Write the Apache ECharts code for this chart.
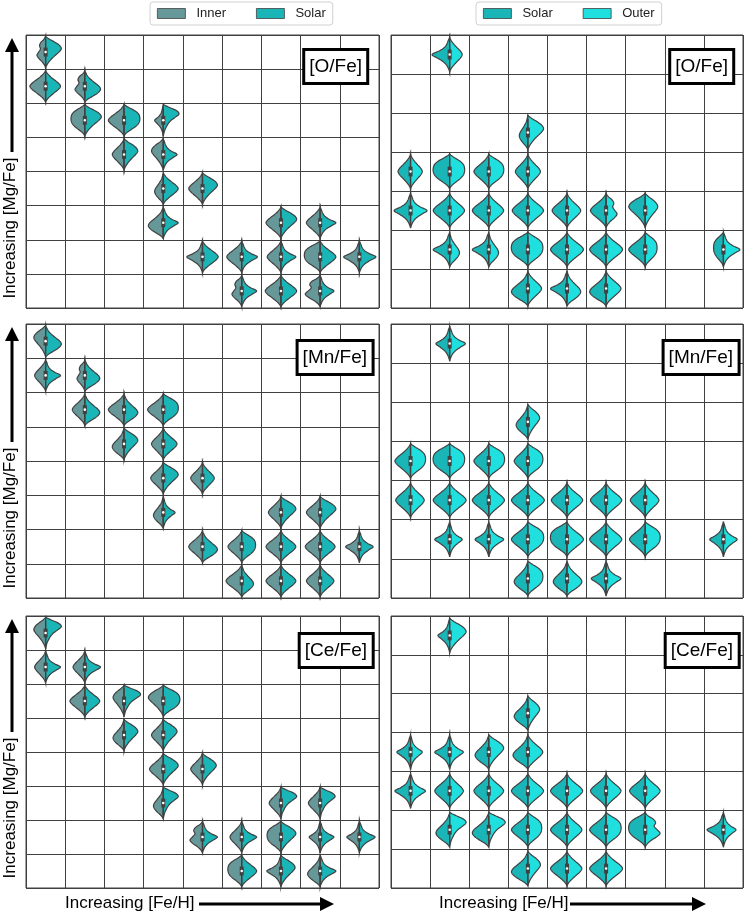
<!DOCTYPE html>
<html>
<head>
<meta charset="utf-8">
<script src="https://cdn.jsdelivr.net/npm/echarts@6/dist/echarts.min.js"></script>
<style>
html, body { margin: 0; padding: 0; background: #fff; }
#main { width: 747px; height: 914px; }
</style>
</head>
<body>
<div id="main"></div>
<script>
// half-violin profiles, sampled top -> bottom, normalised to 1
var diamond = [0, 0.12, 0.32, 0.58, 0.85, 1.0, 0.86, 0.60, 0.34, 0.12, 0];
var upper   = [0, 0.25, 0.62, 0.90, 1.0, 0.85, 0.62, 0.40, 0.22, 0.08, 0];
var lower   = [0, 0.08, 0.20, 0.40, 0.65, 0.90, 1.0, 0.85, 0.55, 0.20, 0];
var spike   = [0, 0.08, 0.16, 0.30, 0.60, 1.0, 0.70, 0.38, 0.18, 0.07, 0];
var round   = [0, 0.30, 0.68, 0.92, 1.0, 1.0, 0.92, 0.72, 0.42, 0.14, 0];
var wavy    = [0, 0.18, 0.55, 0.70, 0.60, 0.80, 1.0, 0.78, 0.42, 0.14, 0];
var flag    = [0, 0.40, 0.85, 1.0, 0.78, 0.50, 0.32, 0.20, 0.10, 0.04, 0];
var SHAPES = { diamond: diamond, upper: upper, lower: lower, spike: spike, round: round, wavy: wavy, flag: flag };

// violins: [col, row (from top), left half shape, left width, right half shape, right width]
// left column panels: Inner | Solar
var oFeInner = [
  [0,0,'wavy',0.22,'upper',0.40], [0,1,'diamond',0.40,'diamond',0.38], [1,1,'wavy',0.25,'lower',0.40],
  [1,2,'round',0.35,'upper',0.42], [2,2,'diamond',0.40,'round',0.40], [3,2,'spike',0.22,'flag',0.40],
  [2,3,'diamond',0.30,'upper',0.35], [3,3,'upper',0.30,'spike',0.35],
  [3,4,'lower',0.22,'diamond',0.38], [4,4,'diamond',0.35,'upper',0.38],
  [3,5,'lower',0.38,'spike',0.38], [6,5,'diamond',0.38,'upper',0.40], [7,5,'diamond',0.35,'spike',0.40],
  [4,6,'spike',0.40,'diamond',0.40], [5,6,'diamond',0.38,'spike',0.40], [6,6,'diamond',0.35,'spike',0.38],
  [7,6,'round',0.40,'diamond',0.40], [8,6,'spike',0.40,'spike',0.42],
  [5,7,'wavy',0.25,'spike',0.38], [6,7,'diamond',0.40,'diamond',0.40], [7,7,'wavy',0.38,'spike',0.35]
];
var mnFeInner = [
  [0,0,'upper',0.30,'lower',0.40], [0,1,'diamond',0.28,'spike',0.38], [1,1,'wavy',0.20,'lower',0.38],
  [1,2,'diamond',0.32,'lower',0.38], [2,2,'diamond',0.40,'lower',0.35], [3,2,'diamond',0.40,'round',0.38],
  [2,3,'lower',0.30,'upper',0.35], [3,3,'diamond',0.30,'diamond',0.35],
  [3,4,'diamond',0.32,'upper',0.38], [4,4,'diamond',0.30,'diamond',0.30],
  [3,5,'lower',0.25,'spike',0.30], [6,5,'diamond',0.32,'upper',0.38], [7,5,'diamond',0.35,'upper',0.40],
  [4,6,'diamond',0.35,'lower',0.38], [5,6,'diamond',0.35,'round',0.35], [6,6,'diamond',0.38,'diamond',0.38],
  [7,6,'diamond',0.38,'diamond',0.38], [8,6,'spike',0.35,'spike',0.35],
  [5,7,'diamond',0.40,'lower',0.30], [6,7,'diamond',0.38,'diamond',0.38], [7,7,'diamond',0.35,'diamond',0.35]
];
var ceFeInner = [
  [0,0,'upper',0.30,'flag',0.40], [0,1,'diamond',0.28,'spike',0.38], [1,1,'diamond',0.30,'spike',0.40],
  [1,2,'diamond',0.38,'diamond',0.38], [2,2,'upper',0.28,'flag',0.42], [3,2,'upper',0.38,'round',0.42],
  [2,3,'lower',0.28,'upper',0.35], [3,3,'diamond',0.30,'upper',0.35],
  [3,4,'diamond',0.35,'upper',0.38], [4,4,'diamond',0.30,'upper',0.35],
  [3,5,'lower',0.25,'flag',0.38], [6,5,'diamond',0.30,'flag',0.40], [7,5,'diamond',0.30,'flag',0.38],
  [4,6,'wavy',0.32,'spike',0.38], [5,6,'diamond',0.30,'spike',0.38], [6,6,'round',0.35,'upper',0.38],
  [7,6,'spike',0.28,'spike',0.35], [8,6,'spike',0.32,'spike',0.40],
  [5,7,'round',0.35,'diamond',0.38], [6,7,'spike',0.36,'upper',0.36], [7,7,'lower',0.32,'spike',0.40]
];
// right column panels: Solar | Outer
var oFeOuter = [
  [1,0,'spike',0.45,'diamond',0.32], [3,2,'lower',0.22,'upper',0.40],
  [0,3,'diamond',0.32,'diamond',0.30], [1,3,'round',0.42,'round',0.38], [2,3,'diamond',0.38,'round',0.38], [3,3,'diamond',0.32,'diamond',0.32],
  [0,4,'spike',0.42,'spike',0.42], [1,4,'diamond',0.42,'diamond',0.38], [2,4,'diamond',0.42,'diamond',0.38], [3,4,'diamond',0.40,'diamond',0.40],
  [4,4,'diamond',0.38,'diamond',0.35], [5,4,'diamond',0.40,'wavy',0.28], [6,4,'upper',0.42,'upper',0.32],
  [1,5,'spike',0.42,'lower',0.25], [2,5,'spike',0.42,'lower',0.25], [3,5,'round',0.42,'round',0.38], [4,5,'diamond',0.42,'diamond',0.42],
  [5,5,'diamond',0.42,'diamond',0.42], [6,5,'diamond',0.42,'round',0.30], [8,5,'round',0.25,'spike',0.42],
  [3,6,'lower',0.42,'diamond',0.35], [4,6,'spike',0.42,'lower',0.35], [5,6,'lower',0.42,'diamond',0.38]
];
var mnFeOuter = [
  [1,0,'spike',0.35,'spike',0.40], [3,2,'lower',0.30,'upper',0.30],
  [0,3,'diamond',0.40,'round',0.38], [1,3,'round',0.42,'round',0.38], [2,3,'diamond',0.38,'round',0.40], [3,3,'diamond',0.35,'round',0.38],
  [0,4,'diamond',0.38,'diamond',0.35], [1,4,'diamond',0.42,'diamond',0.42], [2,4,'diamond',0.42,'diamond',0.40], [3,4,'diamond',0.42,'diamond',0.42],
  [4,4,'diamond',0.40,'diamond',0.40], [5,4,'diamond',0.40,'diamond',0.40], [6,4,'diamond',0.38,'diamond',0.35],
  [1,5,'spike',0.38,'spike',0.32], [2,5,'spike',0.35,'spike',0.38], [3,5,'diamond',0.42,'round',0.40], [4,5,'round',0.42,'diamond',0.42],
  [5,5,'diamond',0.42,'diamond',0.40], [6,5,'diamond',0.40,'round',0.38], [8,5,'spike',0.35,'spike',0.35],
  [3,6,'lower',0.35,'round',0.38], [4,6,'lower',0.35,'lower',0.38], [5,6,'spike',0.38,'spike',0.38]
];
var ceFeOuter = [
  [1,0,'spike',0.30,'upper',0.42], [3,2,'lower',0.35,'upper',0.30],
  [0,3,'spike',0.35,'spike',0.30], [1,3,'spike',0.38,'spike',0.35], [2,3,'lower',0.35,'upper',0.38], [3,3,'lower',0.38,'diamond',0.38],
  [0,4,'spike',0.40,'spike',0.38], [1,4,'diamond',0.38,'diamond',0.35], [2,4,'diamond',0.38,'diamond',0.38], [3,4,'diamond',0.42,'diamond',0.40],
  [4,4,'diamond',0.42,'diamond',0.40], [5,4,'diamond',0.40,'diamond',0.38], [6,4,'diamond',0.40,'diamond',0.38],
  [1,5,'lower',0.35,'flag',0.42], [2,5,'lower',0.42,'flag',0.42], [3,5,'diamond',0.42,'round',0.35], [4,5,'diamond',0.42,'diamond',0.38],
  [5,5,'diamond',0.42,'round',0.38], [6,5,'round',0.42,'wavy',0.38], [8,5,'spike',0.42,'spike',0.32],
  [3,6,'lower',0.42,'upper',0.32], [4,6,'diamond',0.42,'diamond',0.38], [5,6,'diamond',0.42,'diamond',0.42]
];

var panelLabels = ['[O/Fe]', '[O/Fe]', '[Mn/Fe]', '[Mn/Fe]', '[Ce/Fe]', '[Ce/Fe]'];
var panelData = [oFeInner, oFeOuter, mnFeInner, mnFeOuter, ceFeInner, ceFeOuter];
var nCols = 9;
var nRowsLeft = 8, nRowsRight = 7;

// layout / style
var gridRects = [[26,35,353,273],[391,35,352,273],[26,324,353,274],[391,324,352,274],[26,616,353,272],[391,616,352,272]];
var labelBox = [[379,49],[13,49],[374,340],[8,340],[374,633],[8,633]]; // right, top
var INNER = '#669899', SOLAR = '#1ab5b7', OUTER = '#20dfdf';
var EDGE = '#404040';
var FONT = 'Liberation Sans, Arial, sans-serif';

function smoothProfile(prof) {
  var out = [], n = prof.length, steps = 6;
  for (var i = 0; i < n - 1; i++) {
    var p0 = prof[Math.max(i - 1, 0)], p1 = prof[i], p2 = prof[i + 1], p3 = prof[Math.min(i + 2, n - 1)];
    for (var s = 0; s < steps; s++) {
      var t = s / steps, t2 = t * t, t3 = t2 * t;
      var w = 0.5 * (2 * p1 + (-p0 + p2) * t + (2 * p0 - 5 * p1 + 4 * p2 - p3) * t2 + (-p0 + 3 * p1 - 3 * p2 + p3) * t3);
      out.push([(i + t) / (n - 1), Math.max(0, w)]);
    }
  }
  out.push([1, prof[n - 1]]);
  return out;
}

function makeRender(list, side, halfH, withBox) {
  return function (params, api) {
    var v = list[params.dataIndex];
    var cx = v[0] + 0.5, cy = v[1] + 0.5;
    var prof = SHAPES[side < 0 ? v[2] : v[4]];
    var w = side < 0 ? v[3] : v[5];
    var pts = smoothProfile(prof).map(function (p) {
      return api.coord([cx + side * w * p[1], cy - halfH + 2 * halfH * p[0]]);
    });
    var children = [{
      type: 'polygon',
      shape: { points: pts },
      style: { fill: api.visual('color'), stroke: EDGE, lineWidth: 1.2 }
    }];
    if (withBox) {
      var a = api.coord([cx, cy - halfH * 0.78]), b = api.coord([cx, cy + halfH * 0.78]);
      var q1 = api.coord([cx, cy - halfH * 0.28]), q3 = api.coord([cx, cy + halfH * 0.28]);
      var m = api.coord([cx, cy]);
      children.push({ type: 'line', shape: { x1: a[0], y1: a[1], x2: b[0], y2: b[1] }, style: { stroke: EDGE, lineWidth: 1.3 } });
      children.push({ type: 'rect', shape: { x: q1[0] - 2, y: q1[1], width: 4, height: q3[1] - q1[1] }, style: { fill: EDGE } });
      children.push({ type: 'circle', shape: { cx: m[0], cy: m[1], r: 1.3 }, style: { fill: '#fff' } });
    }
    return { type: 'group', children: children };
  };
}

var grids = [], xAxes = [], yAxes = [], series = [], titles = [], graphics = [];
gridRects.forEach(function (r, i) {
  var isRight = i % 2 === 1;
  var rows = isRight ? nRowsRight : nRowsLeft;
  grids.push({ left: r[0], top: r[1], width: r[2], height: r[3], show: true, borderColor: EDGE, borderWidth: 1, backgroundColor: '#fff' });
  xAxes.push({ type: 'value', gridIndex: i, min: 0, max: nCols, interval: 1,
    axisLine: { show: false }, axisTick: { show: false }, axisLabel: { show: false },
    splitLine: { show: true, lineStyle: { color: EDGE, width: 1 } } });
  yAxes.push({ type: 'value', gridIndex: i, min: 0, max: rows, interval: 1, inverse: true,
    axisLine: { show: false }, axisTick: { show: false }, axisLabel: { show: false },
    splitLine: { show: true, lineStyle: { color: EDGE, width: 1 } } });
  var list = panelData[i];
  var halfH = isRight ? 0.45 : 0.47;
  var data = list.map(function (v) { return [v[0] + 0.5, v[1] + 0.5]; });
  var names = isRight ? ['Solar', 'Outer'] : ['Inner', 'Solar'];
  var colors = isRight ? [SOLAR, OUTER] : [INNER, SOLAR];
  series.push({ type: 'custom', name: names[0], xAxisIndex: i, yAxisIndex: i, data: data,
    itemStyle: { color: colors[0] }, renderItem: makeRender(list, -1, halfH, false), z: 3, clip: false });
  series.push({ type: 'custom', name: names[1], xAxisIndex: i, yAxisIndex: i, data: data,
    itemStyle: { color: colors[1] }, renderItem: makeRender(list, 1, halfH, true), z: 4, clip: false });
  titles.push({ text: panelLabels[i], right: labelBox[i][0], top: labelBox[i][1],
    backgroundColor: '#fff', borderColor: '#000', borderWidth: 3, padding: [8, 6, 8, 6], z: 10,
    textStyle: { fontFamily: FONT, fontSize: 19, fontWeight: 'normal', color: '#000' } });
  if (!isRight) {
    var yc = r[1] + r[3] - 80;
    graphics.push({ type: 'text', x: 10, y: yc, rotation: Math.PI / 2,
      style: { text: 'Increasing [Mg/Fe]', font: '17px ' + FONT, fill: '#000', textAlign: 'center', textVerticalAlign: 'middle' } });
    graphics.push({ type: 'line', shape: { x1: 12, y1: yc - 76, x2: 12, y2: r[1] + 14 }, style: { stroke: '#000', lineWidth: 3 } });
    graphics.push({ type: 'polygon', shape: { points: [[5, r[1] + 17], [19, r[1] + 17], [12, r[1] + 3]] }, style: { fill: '#000' } });
  }
});

// x labels with arrows
[[65, 199, 320], [439, 570, 692]].forEach(function (a) {
  graphics.push({ type: 'text', x: a[0], y: 903,
    style: { text: 'Increasing [Fe/H]', font: '17px ' + FONT, fill: '#000', textAlign: 'left', textVerticalAlign: 'middle' } });
  graphics.push({ type: 'line', shape: { x1: a[1], y1: 904, x2: a[2] + 2, y2: 904 }, style: { stroke: '#000', lineWidth: 3 } });
  graphics.push({ type: 'polygon', shape: { points: [[a[2], 897], [a[2] + 14, 904], [a[2], 911]] }, style: { fill: '#000' } });
});

var legendBase = {
  top: 2, icon: 'rect', itemWidth: 28, itemHeight: 10, itemGap: 30,
  padding: [5, 7], borderColor: '#d0d0d0', borderWidth: 1, borderRadius: 3,
  itemStyle: { borderColor: EDGE, borderWidth: 0.8 },
  textStyle: { fontFamily: FONT, fontSize: 13, color: '#222', padding: [0, 0, 0, 6] },
  selectedMode: false
};

var option = {
  animation: false,
  backgroundColor: '#fff',
  title: titles,
  legend: [
    Object.assign({}, legendBase, { left: 150, data: ['Inner', 'Solar'] }),
    Object.assign({}, legendBase, { left: 476, data: ['Solar', 'Outer'] })
  ],
  grid: grids,
  xAxis: xAxes,
  yAxis: yAxes,
  series: series,
  graphic: graphics
};

var chart = echarts.init(document.getElementById('main'), null, { renderer: 'canvas' });
chart.setOption(option);
</script>
</body>
</html>
